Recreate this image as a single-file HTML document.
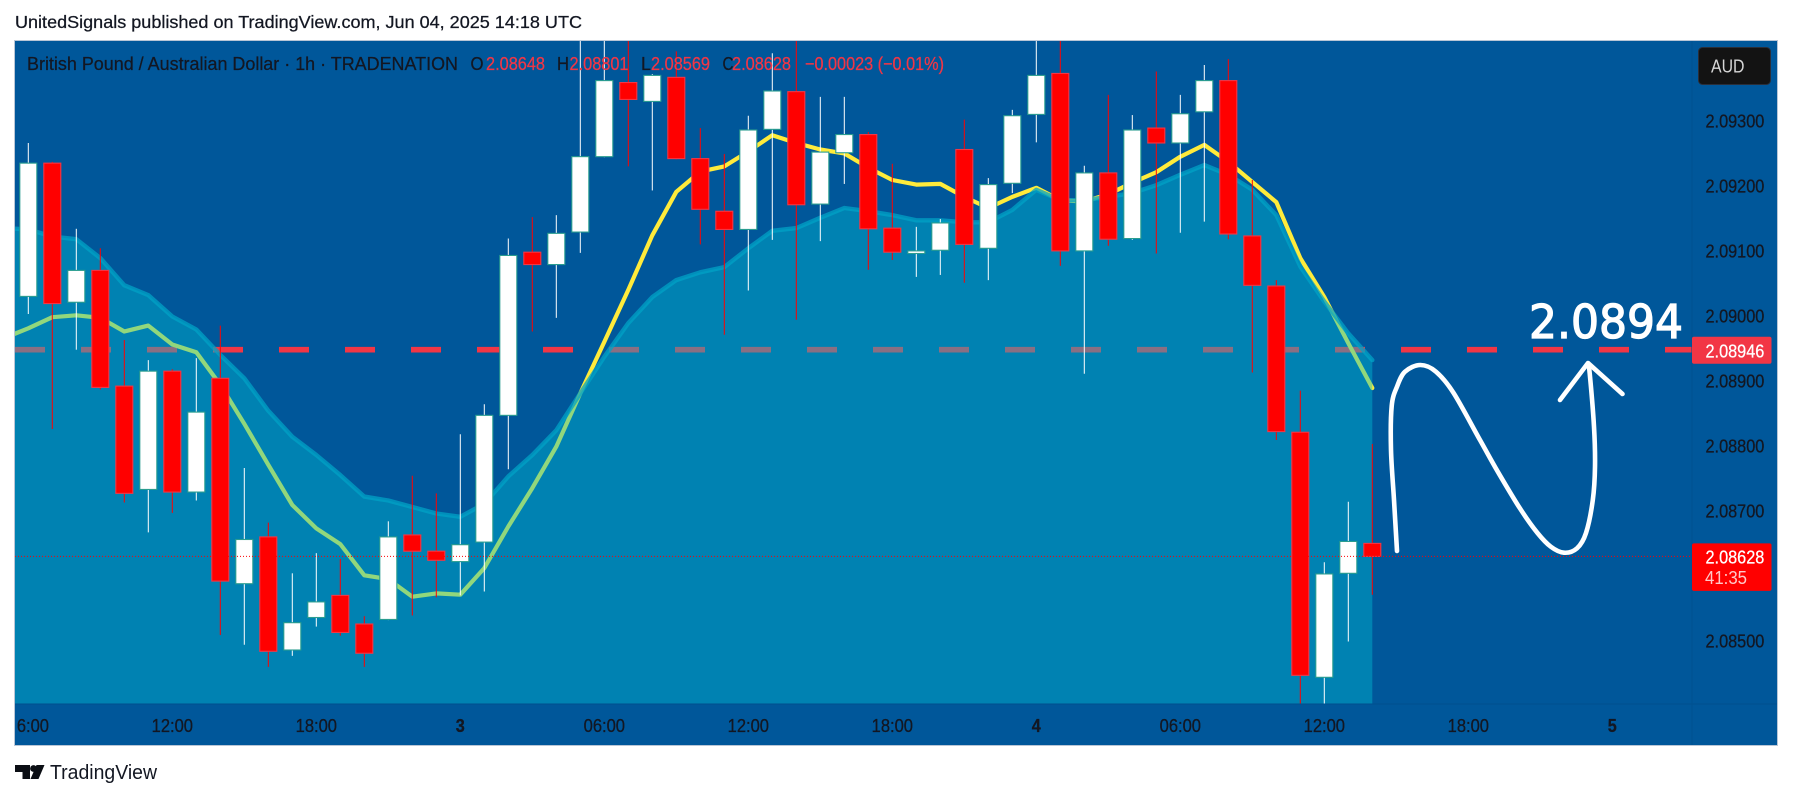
<!DOCTYPE html>
<html lang="en">
<head>
<meta charset="utf-8">
<title>GBP/AUD 1h chart</title>
<style>
html,body{margin:0;padding:0;background:#fff;width:1793px;height:799px;overflow:hidden}
svg{display:block;font-family:"Liberation Sans",sans-serif}
</style>
</head>
<body>
<svg id="chart" xmlns="http://www.w3.org/2000/svg" width="1793" height="799" viewBox="0 0 1793 799">
  <defs>
    <clipPath id="plot-clip"><rect x="15" y="41" width="1677" height="663"/></clipPath>
    <clipPath id="axis-clip"><rect x="16.6" y="704" width="1676" height="41"/></clipPath>
  </defs>
  <rect x="0" y="0" width="1793" height="799" fill="#ffffff"/>
  <text x="15" y="28" font-size="17.5" fill="#131722" stroke="#131722" stroke-width="0.25" textLength="567" lengthAdjust="spacingAndGlyphs">UnitedSignals published on TradingView.com, Jun 04, 2025 14:18 UTC</text>
  <rect x="15" y="41" width="1762" height="704" fill="#00579a"/>
  <g id="under" clip-path="url(#plot-clip)"></g>
  <g id="cloud" clip-path="url(#plot-clip)"></g>
  <g id="candles" clip-path="url(#plot-clip)"></g>
  <g id="over" clip-path="url(#plot-clip)"></g>

  <g fill="none" stroke="#ffffff" stroke-width="4.6" stroke-linecap="round" stroke-linejoin="round">
    <path id="wave"/>
    <path d="M1560 400 L1588 363 L1622.5 394"/>
  </g>
  <text x="1529" y="338" font-family="'DejaVu Sans',sans-serif" font-size="46.5" fill="#ffffff" stroke="#ffffff" stroke-width="1.3" textLength="154" lengthAdjust="spacingAndGlyphs">2.0894</text>

  <line x1="15" x2="1777" y1="704" y2="704" stroke="#004f8f" stroke-width="1"/>
  <line x1="1692" x2="1692" y1="41" y2="745" stroke="#005090" stroke-width="1"/>
  <g id="yaxis"></g>
  <g id="xaxis" clip-path="url(#axis-clip)"></g>

  <g font-size="18.5" stroke-width="0.25">
    <text x="27" y="70" fill="#131722" stroke="#131722" textLength="431" lengthAdjust="spacingAndGlyphs">British Pound / Australian Dollar · 1h · TRADENATION</text>
    <text x="470.5" y="70" fill="#131722" stroke="#131722" textLength="13" lengthAdjust="spacingAndGlyphs">O</text>
    <text x="486" y="70" fill="#f23645" stroke="#f23645" textLength="59" lengthAdjust="spacingAndGlyphs">2.08648</text>
    <text x="557" y="70" fill="#131722" stroke="#131722" textLength="12" lengthAdjust="spacingAndGlyphs">H</text>
    <text x="569.5" y="70" fill="#f23645" stroke="#f23645" textLength="59" lengthAdjust="spacingAndGlyphs">2.08801</text>
    <text x="641" y="70" fill="#131722" stroke="#131722" textLength="10" lengthAdjust="spacingAndGlyphs">L</text>
    <text x="651" y="70" fill="#f23645" stroke="#f23645" textLength="59" lengthAdjust="spacingAndGlyphs">2.08569</text>
    <text x="722.5" y="70" fill="#131722" stroke="#131722" textLength="11" lengthAdjust="spacingAndGlyphs">C</text>
    <text x="732" y="70" fill="#f23645" stroke="#f23645" textLength="59" lengthAdjust="spacingAndGlyphs">2.08628</text>
    <text x="805" y="70" fill="#f23645" stroke="#f23645" textLength="139" lengthAdjust="spacingAndGlyphs">−0.00023 (−0.01%)</text>
  </g>

  <g>
    <rect x="1698.5" y="47.5" width="72" height="37" rx="4" fill="#131313" stroke="#2a2e39"/>
    <text x="1711" y="72.5" font-size="18" fill="#d6d6d6" textLength="33.5" lengthAdjust="spacingAndGlyphs">AUD</text>
  </g>

  <g id="tags"></g>

  <g>
    <path fill="#0b0e14" d="M15 765 H30 V779 H22.5 V772 H15 Z M36.5 765 H44.5 L38.5 779 H30.5 Z"/>
    <circle cx="33.5" cy="768.5" r="3.4" fill="#0b0e14"/>
    <text x="50" y="779" font-size="20" fill="#131722" textLength="107" lengthAdjust="spacingAndGlyphs">TradingView</text>
  </g>

  <rect x="14.5" y="40.5" width="1763" height="705" fill="none" stroke="#b9c6d6" stroke-width="1"/>
</svg>

<script>
// ----- OHLC series, one entry per hourly bar, starting 06:00 Jun 2 -----
const opens = [2.09028,2.09233,2.09019,2.09068,2.08890,2.08731,2.08913,2.08727,2.08902,2.08586,2.08658,2.08484,2.08534,2.08568,2.08524,2.08531,2.08661,2.08636,2.08620,2.08650,2.08845,2.09096,2.09077,2.09127,2.09243,2.09357,2.09328,2.09365,2.09240,2.09159,2.09131,2.09285,2.09343,2.09170,2.09249,2.09277,2.09133,2.09094,2.09099,2.09254,2.09102,2.09202,2.09308,2.09371,2.09098,2.09218,2.09117,2.09287,2.09264,2.09312,2.09360,2.09121,2.09044,2.08819,2.08442,2.08602,2.08648];
const highs = [2.09264,2.09235,2.09132,2.09102,2.08961,2.08930,2.08916,2.08933,2.08983,2.08764,2.08680,2.08602,2.08633,2.08624,2.08536,2.08682,2.08752,2.08725,2.08816,2.08862,2.09117,2.09150,2.09153,2.09440,2.09440,2.09440,2.09370,2.09405,2.09287,2.09247,2.09306,2.09402,2.09440,2.09335,2.09335,2.09281,2.09232,2.09135,2.09147,2.09300,2.09210,2.09315,2.09440,2.09440,2.09229,2.09338,2.09307,2.09374,2.09338,2.09384,2.09393,2.09207,2.09053,2.08883,2.08619,2.08712,2.08801];
const lows = [2.09001,2.08824,2.08946,2.08885,2.08711,2.08665,2.08695,2.08714,2.08507,2.08492,2.08458,2.08475,2.08520,2.08506,2.08458,2.08530,2.08537,2.08565,2.08568,2.08574,2.08762,2.08974,2.08995,2.09095,2.09242,2.09228,2.09191,2.09239,2.09108,2.08969,2.09037,2.09115,2.08992,2.09113,2.09201,2.09069,2.09084,2.09058,2.09061,2.09049,2.09053,2.09187,2.09265,2.09075,2.08909,2.09106,2.09115,2.09094,2.09126,2.09143,2.09116,2.08911,2.08807,2.08395,2.08395,2.08497,2.08569];
const closes = [2.09233,2.09017,2.09068,2.08888,2.08725,2.08913,2.08727,2.08850,2.08590,2.08654,2.08482,2.08526,2.08558,2.08511,2.08479,2.08658,2.08636,2.08622,2.08646,2.08845,2.09091,2.09077,2.09125,2.09243,2.09360,2.09331,2.09368,2.09240,2.09162,2.09131,2.09284,2.09344,2.09169,2.09250,2.09277,2.09132,2.09096,2.09098,2.09141,2.09108,2.09200,2.09306,2.09368,2.09098,2.09218,2.09116,2.09284,2.09264,2.09309,2.09360,2.09124,2.09045,2.08820,2.08445,2.08601,2.08651,2.08628];

// ----- Indicator series: first entry is the bar just left of the visible plot -----
const fastMA = [2.08964,2.08979,2.08996,2.08999,2.08995,2.08974,2.08983,2.08954,2.08942,2.08892,2.08832,2.08769,2.08707,2.08671,2.08647,2.08599,2.08593,2.08566,2.08571,2.08569,2.08610,2.08674,2.08733,2.08797,2.08879,2.08958,2.09038,2.09122,2.09189,2.09220,2.09228,2.09251,2.09276,2.09264,2.09254,2.09248,2.09226,2.09207,2.09200,2.09201,2.09181,2.09164,2.09181,2.09195,2.09176,2.09174,2.09185,2.09203,2.09219,2.09243,2.09261,2.09235,2.09204,2.09173,2.09087,2.09027,2.08956,2.08887];
const cloudTop = [2.09133,2.09131,2.09120,2.09116,2.09087,2.09045,2.09030,2.08997,2.08977,2.08938,2.08902,2.08852,2.08812,2.08784,2.08753,2.08720,2.08714,2.08704,2.08694,2.08689,2.08709,2.08751,2.08784,2.08822,2.08879,2.08935,2.08987,2.09027,2.09053,2.09065,2.09073,2.09102,2.09129,2.09133,2.09149,2.09164,2.09159,2.09153,2.09145,2.09145,2.09142,2.09142,2.09161,2.09192,2.09176,2.09176,2.09181,2.09187,2.09199,2.09215,2.09230,2.09215,2.09192,2.09153,2.09074,2.09020,2.08971,2.08930];

// ----- Levels and axis labels -----
const targetLevel = 2.08946;
const lastClose = 2.08628;
const priceTicks = [2.09300,2.09200,2.09100,2.09000,2.08900,2.08800,2.08700,2.08500];
const timeTickBars = [0,6,12,18,24,30,36,42,48,54,60,66];
const timeTickLabels = ["06:00","12:00","18:00","3","06:00","12:00","18:00","4","06:00","12:00","18:00","5"];

// ----- Axis functions -----
const xOfBar = i => 28.3 + 24 * i;
const yOfPrice = p => 119.6 + (2.093 - p) * 65000;

const NS = "http://www.w3.org/2000/svg";
function make(tag, parent, attrs) {
  const el = document.createElementNS(NS, tag);
  for (const k in attrs) el.setAttribute(k, attrs[k]);
  parent.appendChild(el);
  return el;
}
const under = document.getElementById("under");
const cloud = document.getElementById("cloud");
const candles = document.getElementById("candles");
const over = document.getElementById("over");
const yaxis = document.getElementById("yaxis");
const xaxis = document.getElementById("xaxis");
const tags = document.getElementById("tags");

// Target dashed line (sits below the translucent cloud)
const targetLine = make("line", under, {x1:15, x2:1692, y1:yOfPrice(targetLevel), y2:yOfPrice(targetLevel), stroke:"#f23645", "stroke-width":5.6, "stroke-dasharray":"30 36"});



// Fast moving average (below the cloud so it tints green inside it)
const fastPts = fastMA.map((v, k) => xOfBar(k - 1).toFixed(1) + "," + yOfPrice(v).toFixed(1)).join(" ");
const fastLine = make("polyline", under, {points:fastPts, fill:"none", stroke:"#ffeb3b", "stroke-width":4.2, "stroke-linejoin":"round", "stroke-linecap":"round"});



// Cloud fill and its upper edge
const topPts = cloudTop.map((v, k) => xOfBar(k - 1).toFixed(1) + "," + yOfPrice(v).toFixed(1));
const lastX = xOfBar(cloudTop.length - 2);
const cloudFill = make("polygon", cloud, {points:topPts.join(" ") + " " + lastX.toFixed(1) + ",704 " + xOfBar(-1).toFixed(1) + ",704", fill:"#00bcd4", "fill-opacity":0.43});


const cloudEdge = make("polyline", cloud, {points:topPts.join(" "), fill:"none", stroke:"#00a2c6", "stroke-opacity":0.75, "stroke-width":4.4, "stroke-linejoin":"round", "stroke-linecap":"round"});



// Candles
opens.forEach((o, i) => {
  const c = closes[i], up = c >= o;
  const x = xOfBar(i), wx = Math.round(x) + 0.5 - 0.2;
  const g = make("g", candles, {});
  
  
  const wick = make("line", g, {x1:wx, x2:wx, y1:yOfPrice(highs[i]), y2:yOfPrice(lows[i]), stroke: up ? "#ffffff" : "#ff0000", "stroke-width":1});
  
  
  const top = yOfPrice(Math.max(o, c)), bot = yOfPrice(Math.min(o, c));
  const body = make("rect", g, {x:x - 8.5, y:top, width:17, height:Math.max(bot - top, 1.5), fill: up ? "#ffffff" : "#ff0000", stroke: up ? "#2a9d90" : "#f23645", "stroke-width":1.1});
  
  
});

// Last price dotted line
const closeLine = make("line", over, {x1:15, x2:1692, y1:yOfPrice(lastClose), y2:yOfPrice(lastClose), stroke:"#ff0000", "stroke-width":1, "stroke-dasharray":"1 2"});



// Price axis labels
priceTicks.forEach(p => {
  const t = make("text", yaxis, {x:1705.5, y:yOfPrice(p) + 7.9, "font-size":18.5, fill:"#131722", stroke:"#131722", "stroke-width":0.3, textLength:58.8, lengthAdjust:"spacingAndGlyphs"});
  
  
  t.textContent = p.toFixed(5);
});

// Time axis labels
timeTickBars.forEach((b, k) => {
  const s = timeTickLabels[k], isDate = s.length === 1;
  const t = make("text", xaxis, {x:xOfBar(b), y:731.8, "font-size":18.5, fill:"#131722", stroke:"#131722", "stroke-width":0.3, "text-anchor":"middle", "font-weight": isDate ? "bold" : "normal", textLength: isDate ? 9 : 41.3, lengthAdjust:"spacingAndGlyphs"});
  
  
  t.textContent = s;
});

// Price tags
const yTarget = yOfPrice(targetLevel);
const targetTag = make("rect", tags, {x:1692, y:yTarget - 13, width:79.5, height:27, rx:2, fill:"#f23645"});


const targetTagText = make("text", tags, {x:1705.5, y:yTarget + 7.8, "font-size":18.5, fill:"#ffffff", stroke:"#ffffff", "stroke-width":0.25, textLength:58.8, lengthAdjust:"spacingAndGlyphs"});


targetTagText.textContent = targetLevel.toFixed(5);

const yClose = yOfPrice(lastClose);
const closeTag = make("rect", tags, {x:1692, y:yClose - 13, width:79.5, height:47.5, rx:2, fill:"#ff0000"});


const closeTagText = make("text", tags, {x:1705.5, y:yClose + 7.2, "font-size":18.5, fill:"#ffffff", stroke:"#ffffff", "stroke-width":0.25, textLength:58.8, lengthAdjust:"spacingAndGlyphs"});


closeTagText.textContent = lastClose.toFixed(5);
const countdown = make("text", tags, {x:1705, y:yClose + 27.8, "font-size":18.5, fill:"#ffc9c9", textLength:42, lengthAdjust:"spacingAndGlyphs"});


countdown.textContent = "41:35";

// Hand-drawn wave annotation: screen-space sketch smoothed into a curve
const sketch = [[1397,551],[1394,500],[1391,450],[1391.7,406],[1397,386.7],[1405,371.7],[1420.4,365],[1436,371.7],[1453.6,393],[1480,440],[1497.8,471.7],[1519.9,508.3],[1537.5,533],[1550.8,546.7],[1564,552.7],[1577,548.3],[1586,533],[1592.8,500],[1595,466.7],[1594,426.7],[1589.7,373.3],[1588,364]];
let waveD = "M" + sketch[0].join(" ");
for (let k = 0; k < sketch.length - 1; k++) {
  const p0 = sketch[Math.max(k - 1, 0)], p1 = sketch[k], p2 = sketch[k + 1], p3 = sketch[Math.min(k + 2, sketch.length - 1)];
  const c1x = p1[0] + (p2[0] - p0[0]) / 6, c1y = p1[1] + (p2[1] - p0[1]) / 6;
  const c2x = p2[0] - (p3[0] - p1[0]) / 6, c2y = p2[1] - (p3[1] - p1[1]) / 6;
  waveD += " C" + [c1x, c1y, c2x, c2y, p2[0], p2[1]].map(n => n.toFixed(1)).join(" ");
}
document.getElementById("wave").setAttribute("d", waveD);
</script>
</body>
</html>
